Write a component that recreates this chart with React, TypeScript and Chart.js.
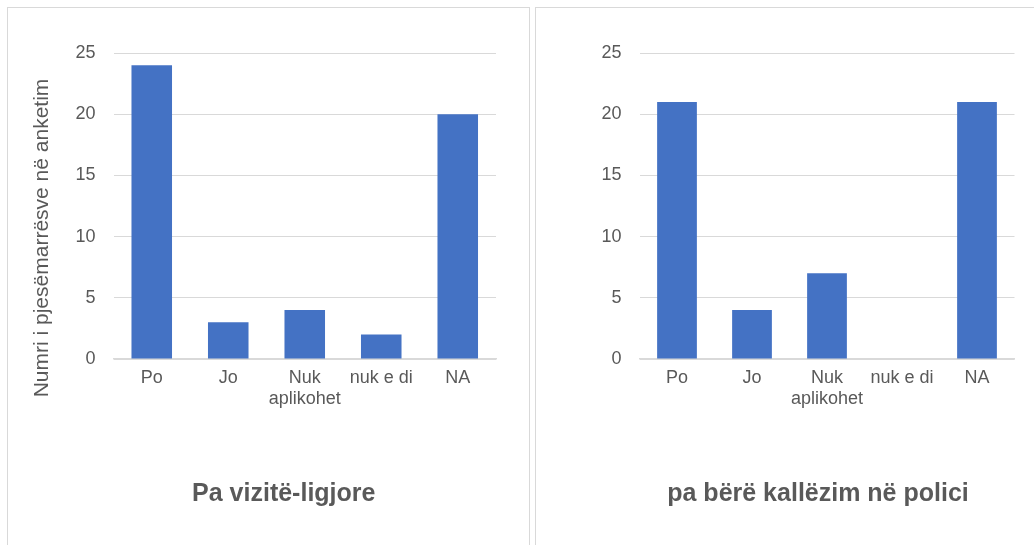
import React, { useEffect, useRef } from "react";
import { Chart, registerables } from "chart.js";

Chart.register(...registerables);

const categories: (string | string[])[] = ["Po", "Jo", ["Nuk", "aplikohet"], "nuk e di", "NA"];
const vizitaValues = [24, 3, 4, 2, 20];
const kallezimValues = [21, 4, 7, 0, 21];
const leftTitle = "Pa vizitë-ligjore";
const rightTitle = "pa bërë kallëzim në polici";
const yAxisTitle = "Numri i pjesëmarrësve në anketim";
const yMin = 0;
const yMax = 25;
const yStep = 5;

const TEXT = "#595959";
const GRID = "#d9d9d9";
const BAR = "#4472C4";
const FONT = "'Liberation Sans', Arial, sans-serif";

type PanelProps = {
  values: number[];
  title: string;
  titleShift: number;
  yTitle?: string;
  width: number;
  height: number;
  padL: number;
  padR: number;
  yWidth: number;
};

function BarPanel({ values, title, titleShift, yTitle, width, height, padL, padR, yWidth }: PanelProps) {
  const ref = useRef<HTMLCanvasElement | null>(null);
  useEffect(() => {
    if (!ref.current) return;
    const textPlugin = {
      id: "panelTexts",
      afterDraw(chart: any) {
        const { ctx, chartArea } = chart;
        ctx.save();
        ctx.fillStyle = TEXT;
        ctx.textAlign = "center";
        ctx.textBaseline = "middle";
        // chart title, below the axis
        ctx.font = `bold 25px ${FONT}`;
        const cx = (chartArea.left + chartArea.right) / 2 + titleShift;
        ctx.fillText(title, cx, chartArea.bottom + 135);
        if (yTitle) {
          ctx.translate(chartArea.left - 71.5, chartArea.bottom - 121);
          ctx.rotate(-Math.PI / 2);
          ctx.font = `21px ${FONT}`;
          ctx.fillText(yTitle, 0, 0);
        }
        ctx.restore();
      },
    };
    const chart = new Chart(ref.current, {
      type: "bar",
      data: {
        labels: categories,
        datasets: [
          {
            data: values,
            backgroundColor: BAR,
            borderWidth: 0,
            barPercentage: 0.53,
            categoryPercentage: 1,
          },
        ],
      },
      options: {
        responsive: false,
        animation: false,
        layout: { padding: { left: padL, right: padR, top: 45, bottom: 0 } },
        plugins: {
          legend: { display: false },
          tooltip: { enabled: false },
          title: { display: false },
        },
        scales: {
          x: {
            grid: { display: false, drawTicks: false },
            border: { display: true, color: GRID, width: 1.5 },
            ticks: {
              color: TEXT,
              font: { family: FONT, size: 18, lineHeight: 1.15 },
              padding: 9,
              maxRotation: 0,
              autoSkip: false,
            },
            afterFit: (scale: any) => {
              scale.height = 186;
            },
          },
          y: {
            min: yMin,
            max: yMax,
            grid: { color: GRID, lineWidth: 1, drawTicks: false },
            border: { display: false },
            ticks: {
              stepSize: yStep,
              color: TEXT,
              font: { family: FONT, size: 18 },
              padding: 18,
            },
            afterFit: (scale: any) => {
              scale.width = yWidth;
            },
          },
        },
      },
      plugins: [textPlugin],
    } as any);
    return () => chart.destroy();
  }, [values, title, titleShift, yTitle, width, height, padL, padR, yWidth]);
  return <canvas ref={ref} width={width} height={height} style={{ width, height, display: "block" }} />;
}

export default function App() {
  return (
    <div style={{ position: "fixed", inset: 0, overflow: "hidden", background: "#fff" }}>
      <div
        style={{
          position: "absolute",
          left: 7,
          top: 7,
          width: 523,
          height: 600,
          boxSizing: "border-box",
          border: "1px solid #d9d9d9",
        }}
      />
      <div
        style={{
          position: "absolute",
          left: 535,
          top: 7,
          width: 600,
          height: 600,
          boxSizing: "border-box",
          border: "1px solid #d9d9d9",
        }}
      />
      <div style={{ position: "absolute", left: 8, top: 8 }}>
        <BarPanel
          values={vizitaValues}
          title={leftTitle}
          titleShift={-21}
          yTitle={yAxisTitle}
          width={521}
          height={537}
          padL={40}
          padR={33}
          yWidth={65.5}
        />
      </div>
      <div style={{ position: "absolute", left: 536, top: 8 }}>
        <BarPanel
          values={kallezimValues}
          title={rightTitle}
          titleShift={-9}
          width={498}
          height={537}
          padL={43.5}
          padR={19.5}
          yWidth={60}
        />
      </div>
    </div>
  );
}
